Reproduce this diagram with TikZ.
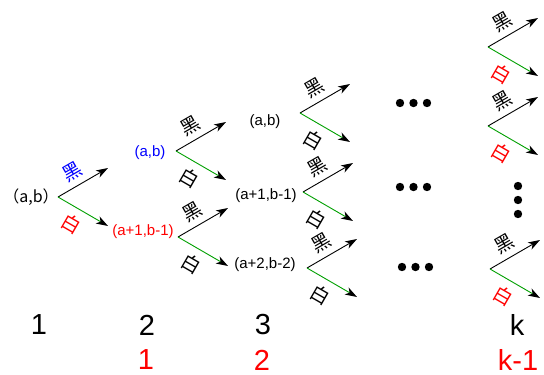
\documentclass[tikz,border=0pt]{standalone}
\usepackage{fontspec}
\setmainfont{Liberation Sans}
\newfontfamily\cjkf{Noto Sans CJK SC}
\usetikzlibrary{arrows.meta,calc}
\definecolor{brgreen}{RGB}{0,160,0}
\definecolor{myblue}{RGB}{0,0,255}
\definecolor{myred}{RGB}{255,0,0}
\tikzset{
  upar/.style={draw=black, line width=0.9pt, -{Stealth[length=12pt,width=8pt,inset=3.5pt,color=black]}},
  dnar/.style={draw=brgreen, line width=0.9pt, -{Stealth[length=12pt,width=8pt,inset=3.5pt,color=black]}},
  cjklab/.style={font=\cjkf\fontsize{19}{19}\selectfont, inner sep=0pt},
  state/.style={font=\fontsize{15}{15}\selectfont, inner sep=1pt},
  bignum/.style={font=\fontsize{29}{29}\selectfont, inner sep=0pt},
  bigdot/.style={fill=black, draw=none},
}
\newcommand\forkat[5]{%
  \coordinate (#1) at (#2,#3);
  \coordinate (#1u) at ($(#1)+(50,-29)$);
  \coordinate (#1d) at ($(#1)+(50,29)$);
  \draw[upar] (#1) -- (#1u);
  \draw[dnar] (#1) -- (#1d);
  \node[cjklab, text=#4, rotate=30] (#1h) at ($(#1)+(14,-25)$) {黑};
  \node[cjklab, text=#5, rotate=-30] (#1b) at ($(#1)+(13,27)$) {白};
}
\begin{document}
\begin{tikzpicture}[x=1pt,y=-1pt]
\useasboundingbox[fill=white] (0,0) rectangle (544,375);
% column 1
\node[font=\cjkf\fontsize{16}{16}\selectfont, inner sep=0pt] (s1) at (31,197) {（a,b）};
\forkat{fa}{58}{197}{myblue}{myred}
% column 2
\node[state, text=myblue] (s2a) at (150,153) {(a,b)};
\node[state, text=myred] (s2b) at (143,232) {(a+1,b-1)};
\forkat{fb}{176}{151}{black}{black}
\forkat{fc}{178}{237}{black}{black}
% column 3
\node[state] (s3a) at (265,122) {(a,b)};
\node[state] (s3b) at (266,196) {(a+1,b-1)};
\node[state] (s3c) at (265,265) {(a+2,b-2)};
\forkat{fd}{300}{113}{black}{black}
\forkat{fe}{303}{192}{black}{black}
\forkat{ff}{307}{268}{black}{black}
% dots
\foreach \yy/\xx in {103/400,187/400,267/402}{
  \foreach \k in {0,1,2}{
    \fill[bigdot] (\xx+13.5*\k,\yy) circle (4.2);
  }
}
\foreach \yy in {186,200,214}{
  \fill[bigdot] (518,\yy) circle (4.2);
}
% column k
\forkat{fg}{488}{47}{black}{myred}
\forkat{fh}{488}{126}{black}{myred}
\forkat{fi}{490}{269}{black}{myred}
% bottom numbers
\node[bignum] (c1) at (39,325) {1};
\node[bignum] (c2) at (147,325) {2};
\node[bignum] (c3) at (263,325) {3};
\node[bignum] (ck) at (517,325) {k};
\node[bignum, text=myred] (r1) at (146,360) {1};
\node[bignum, text=myred] (r2) at (262,360) {2};
\node[bignum, text=myred] (rk) at (518,360) {k-1};
\end{tikzpicture}
\end{document}
